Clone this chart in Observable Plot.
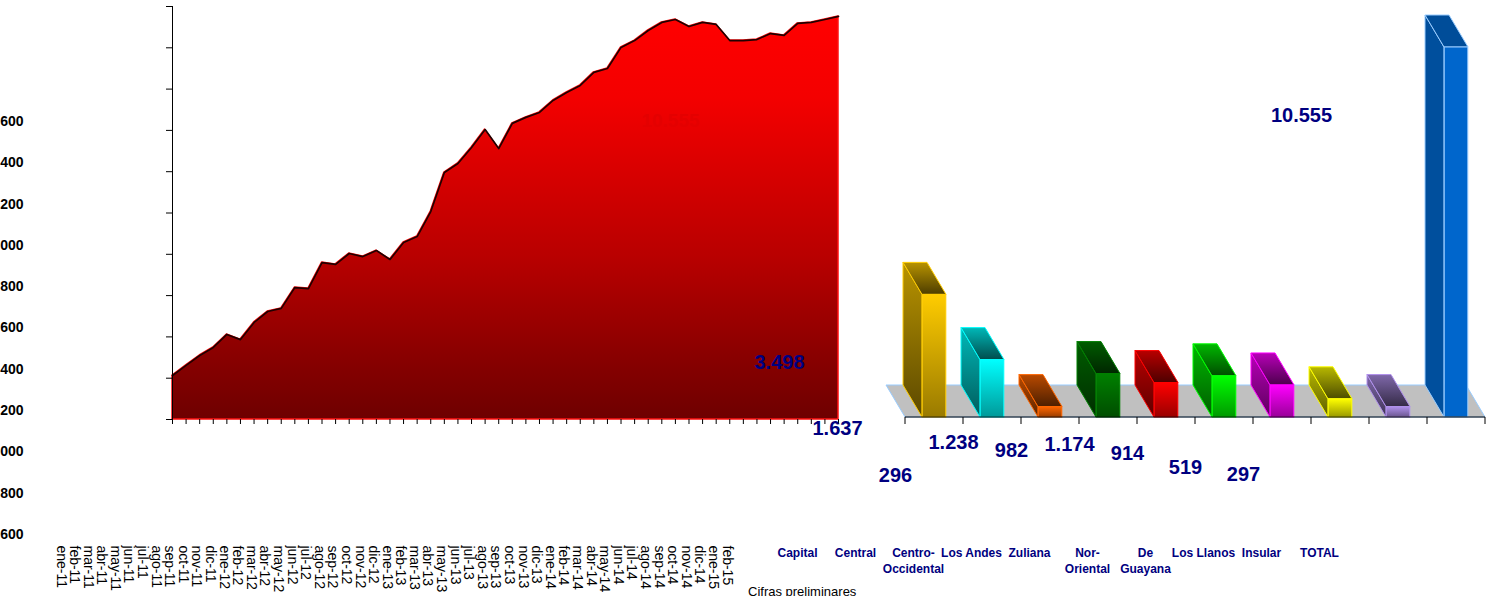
<!DOCTYPE html>
<html><head><meta charset="utf-8">
<script src="https://cdn.jsdelivr.net/npm/d3@7"></script>
<script src="https://cdn.jsdelivr.net/npm/@observablehq/plot@0.6"></script>
<style>
html,body{margin:0;padding:0;background:#fff;}
#wrap{position:relative;width:1493px;height:596px;overflow:hidden;font-family:'Liberation Sans',Arial,sans-serif;}
#left,#right{position:absolute;top:0;}
#left{left:0;width:860px;}
#right{left:600px;width:893px;}
#note{position:absolute;left:748px;top:584px;font-size:13px;color:#000;white-space:nowrap;}
</style></head><body>
<div id="wrap"><div id="left"></div><div id="right"></div><div id="note"></div></div>
<script>
// ---------- data ----------
const months = ["ene-11","feb-11","mar-11","abr-11","may-11","jun-11","jul-11","ago-11","sep-11","oct-11","nov-11","dic-11",
"ene-12","feb-12","mar-12","abr-12","may-12","jun-12","jul-12","ago-12","sep-12","oct-12","nov-12","dic-12",
"ene-13","feb-13","mar-13","abr-13","may-13","jun-13","jul-13","ago-13","sep-13","oct-13","nov-13","dic-13",
"ene-14","feb-14","mar-14","abr-14","may-14","jun-14","jul-14","ago-14","sep-14","oct-14","nov-14","dic-14",
"ene-15","feb-15"];
const monthlyValues = [1813,1862,1910,1949,2012,1987,2070,2123,2138,2239,2234,2360,2351,2404,2389,2418,2375,2457,2486,2607,2796,2840,2917,3004,2912,3034,3063,3087,3145,3184,3218,3281,3300,3402,3435,3484,3523,3537,3503,3523,3513,3435,3435,3440,3469,3460,3518,3523,3537,3552];
const yTicks = [1600,1800,2000,2200,2400,2600,2800,3000,3200,3400,3600];

const regions = ["Capital","Central","Centro-Occidental","Los Andes","Zuliana","Nor-Oriental","De Guayana","Los Llanos","Insular","TOTAL"];
const regionLabels = ["Capital","Central","Centro-\nOccidental","Los Andes","Zuliana","Nor-\nOriental","De\nGuayana","Los Llanos","Insular","TOTAL"];
const regionValues = [3498,1637,296,1238,982,1174,914,519,297,10555];
const barColors = ["#ffcc00","#00ffff","#ff6600","#008000","#ff0000","#00ff00","#ff00ff","#ffff00","#b090ec","#0066cc"];
const noteText = "Cifras preliminares";

// ---------- helpers ----------
const FONT = "'Liberation Sans', Arial, sans-serif";
const fmt = d3.formatLocale({decimal: ",", thousands: ".", grouping: [3], currency: ["", ""]}).format(",d");
const shade = (c, k) => { const r = d3.rgb(c); return d3.rgb(r.r * k, r.g * k, r.b * k).formatHex(); };
document.getElementById("note").textContent = noteText;

// ---------- left: area chart ----------
const series = months.map((m, i) => ({i, month: m, value: monthlyValues[i]}));
const monthIdx = months.map((m, i) => i);
const leftDefs = () => {
  const defs = d3.create("svg:defs");
  const g = defs.append("linearGradient").attr("id", "areaGrad").attr("x1", 0).attr("x2", 0).attr("y1", 0).attr("y2", 1);
  [[0, "#ff0000"], [0.2, "#f40000"], [0.6, "#b80000"], [0.85, "#880000"], [1, "#6e0000"]]
    .forEach(([o, c]) => g.append("stop").attr("offset", o).attr("stop-color", c));
  return defs.node();
};
const left = Plot.plot({
  width: 860, height: 596,
  marginLeft: 172, marginRight: 22, marginTop: 6, marginBottom: 177,
  style: {background: "transparent", overflow: "visible", fontFamily: FONT, maxWidth: "none"},
  x: {type: "linear", domain: [0, months.length - 1]},
  y: {domain: [yTicks[0], yTicks[yTicks.length - 1]]},
  marks: [
    leftDefs,
    Plot.areaY(series, {x: "i", y1: yTicks[0], y2: "value", fill: "url(#areaGrad)", stroke: "#ff1010", strokeWidth: 1.5}),
    Plot.lineY(series, {x: "i", y: "value", stroke: "#200000", strokeWidth: 1.7}),
    Plot.axisX({ticks: monthIdx, tickSize: 5, tickFormat: () => "", label: null}),
    Plot.axisY({ticks: yTicks, tickSize: 6, tickFormat: () => "", label: null}),
    Plot.ruleX([0], {stroke: "#000"}),
    Plot.text(yTicks, {y: d => d, text: d => fmt(d), frameAnchor: "left", textAnchor: "end", dx: -149, dy: 115, fontSize: 14, fontWeight: "bold", fill: "#000"}),
    Plot.text(series, {x: "i", text: "month", frameAnchor: "bottom", rotate: 90, textAnchor: "start", dx: -116, dy: 126, fontSize: 14, fill: "#000"})
  ]
});
document.getElementById("left").append(left);

// ---------- right: pseudo-3D bars ----------
const RW = 893, RML = 303, RMR = 6;
const DX = -19, DY = -32, FACE = 24;
const bandW = (RW - RML - RMR) / regions.length;
const INSET = (bandW - FACE) / 2;
const barData = regions.map((r, i) => ({region: r, label: regionLabels[i], value: regionValues[i], color: barColors[i], idx: i}));
const isFlat = i => regions[i] === "TOTAL";

const rightDefs = () => {
  const defs = d3.create("svg:defs");
  barData.forEach(d => {
    const c = d.color, flat = isFlat(d.idx);
    const mk = (id, a, b) => {
      const g = defs.append("linearGradient").attr("id", id).attr("x1", 0).attr("x2", 0).attr("y1", 0).attr("y2", 1);
      g.append("stop").attr("offset", 0).attr("stop-color", a);
      g.append("stop").attr("offset", 1).attr("stop-color", b);
    };
    if (flat) {
      mk("front" + d.idx, c, c);
      mk("side" + d.idx, shade(c, 0.77), shade(c, 0.77));
      mk("top" + d.idx, shade(c, 0.75), shade(c, 0.75));
    } else {
      mk("front" + d.idx, c, shade(c, 0.6));
      mk("side" + d.idx, shade(c, 0.72), shade(c, 0.36));
      mk("top" + d.idx, shade(c, 0.72), shade(c, 0.3));
    }
  });
  return defs.node();
};

const floorAndFaces = (index, scales) => {
  const x = scales.x, y = scales.y, bw = x.bandwidth();
  const g = d3.create("svg:g");
  const base = y(0);
  const x0 = x(regions[0]), x1 = x(regions[regions.length - 1]) + bw;
  g.append("path")
    .attr("d", `M${x0},${base}L${x0 + DX},${base + DY}L${x1 + DX},${base + DY}L${x1},${base}Z`)
    .attr("fill", "#c0c0c0").attr("stroke", "#99ccff");
  barData.forEach(d => {
    const L = x(d.region) + (bw - FACE) / 2, top = y(d.value);
    const edge = isFlat(d.idx) ? "#99ccff" : d.color;
    g.append("path")
      .attr("d", `M${L},${base}L${L},${top}L${L + DX},${top + DY}L${L + DX},${base + DY}Z`)
      .attr("fill", `url(#side${d.idx})`).attr("stroke", edge).attr("stroke-linejoin", "round");
    g.append("path")
      .attr("d", `M${L},${top}L${L + FACE},${top}L${L + FACE + DX},${top + DY}L${L + DX},${top + DY}Z`)
      .attr("fill", `url(#top${d.idx})`).attr("stroke", edge).attr("stroke-linejoin", "round");
  });
  return g.node();
};

const bandAxis = (index, scales) => {
  const x = scales.x, y = scales.y, bw = x.bandwidth();
  const g = d3.create("svg:g").attr("stroke", "#000");
  const base = y(0);
  const x0 = x(regions[0]), x1 = x(regions[regions.length - 1]) + bw;
  g.append("line").attr("x1", x0).attr("x2", x1).attr("y1", base).attr("y2", base);
  const edges = regions.map(r => x(r)).concat([x1]);
  edges.forEach(e => g.append("line").attr("x1", e).attr("x2", e).attr("y1", base).attr("y2", base + 7));
  return g.node();
};

const right = Plot.plot({
  width: RW, height: 596,
  marginLeft: RML, marginRight: RMR, marginTop: 47, marginBottom: 179,
  style: {background: "transparent", overflow: "visible", fontFamily: FONT, maxWidth: "none"},
  x: {type: "band", domain: regions, padding: 0, axis: null},
  y: {domain: [0, d3.max(regionValues)], axis: null},
  color: {type: "identity"},
  marks: [
    rightDefs,
    floorAndFaces,
    Plot.barY(barData, {x: "region", y: "value", fill: d => `url(#front${d.idx})`, stroke: d => isFlat(d.idx) ? "#99ccff" : d.color, strokeWidth: 1, insetLeft: INSET, insetRight: INSET}),
    bandAxis,
    Plot.text(barData, {x: "region", text: "label", frameAnchor: "bottom", lineAnchor: "top", lineHeight: 1.33, dx: -137, dy: 128.5, fontSize: 12, fontWeight: "bold", fill: "#000080"}),
    Plot.text(barData, {x: "region", y: "value", text: d => fmt(d.value), dx: -155, dy: 68, fontSize: 20, fontWeight: "bold", fill: "#000080"}),
    Plot.text(barData.filter(d => d.region === "TOTAL"), {x: "region", y: "value", text: d => fmt(d.value), dx: -786, dy: 73, fontSize: 19, fontWeight: "bold", fill: "#e40000"})
  ]
});
document.getElementById("right").append(right);
</script>
</body></html>
